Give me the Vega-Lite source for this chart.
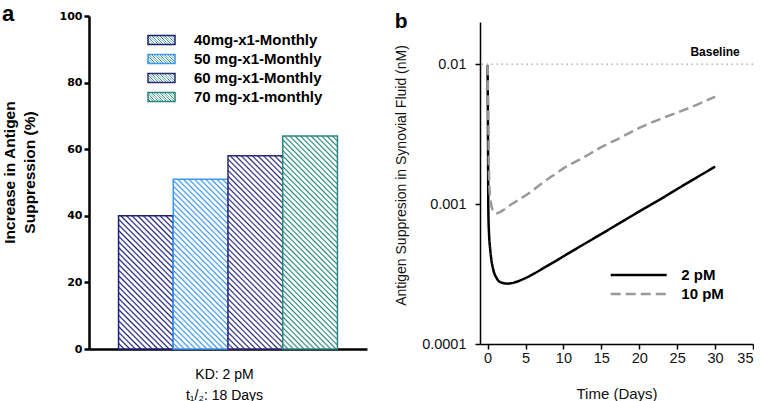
{
  "$schema": "https://vega.github.io/schema/vega-lite/v6.json",
  "padding": {"left": 2, "top": 3, "right": 0, "bottom": 0},
  "config": {
    "font": "Liberation Sans",
    "view": {"stroke": null},
    "axis": {"labelOverlap": false},
    "axisX": {"labelFontSize": 14.5, "labelColor": "#111", "labelPadding": 2, "labelOverlap": false, "tickSize": 5, "tickWidth": 1.5, "tickColor": "#000", "domainColor": "#000", "domainWidth": 1.5, "grid": false},
    "title": {"font": "Liberation Sans", "fontSize": 22, "fontWeight": "bold", "anchor": "start", "frame": "bounds", "color": "#000"}
  },
  "spacing": 27,
  "resolve": {"scale": {"stroke": "independent", "strokeDash": "independent"}, "legend": {"stroke": "independent", "strokeDash": "independent"}},
  "hconcat": [
    {
      "width": 278,
      "height": 333,
      "title": {"text": "a", "offset": -16},
      "data": {"values": [
        {"dose": "40mg-x1-Monthly", "value": 40},
        {"dose": "50 mg-x1-Monthly", "value": 51},
        {"dose": "60 mg-x1-Monthly", "value": 58},
        {"dose": "70 mg-x1-monthly", "value": 64}
      ]},
      "mark": {"type": "bar", "strokeWidth": 1.5},
      "encoding": {
        "x": {"field": "dose", "type": "nominal", "sort": null,
          "scale": {"paddingInner": 0, "paddingOuter": 0.54},
          "axis": {"title": ["KD: 2 pM", "t₁/₂: 18 Days"], "labels": false, "ticks": false, "domainColor": "#000", "domainWidth": 2.5,
            "titleFontWeight": "normal", "titleFontSize": 14, "titleColor": "#000", "titlePadding": 18, "titleLineHeight": 21, "titleX": 135}},
        "y": {"field": "value", "type": "quantitative",
          "scale": {"domain": [0, 100], "nice": false},
          "axis": {"values": [0, 20, 40, 60, 80, 100], "title": ["Increase in Antigen", "Suppression (%)"], "grid": false,
            "domainColor": "#000", "domainWidth": 2.5, "tickColor": "#000", "tickWidth": 2.5, "tickSize": 5,
            "labelFont": "DejaVu Sans", "labelFontWeight": "bold", "labelFontSize": 11, "labelColor": "#000", "labelPadding": 2,
            "titleFontSize": 15.5, "titleFontWeight": "bold", "titleColor": "#000", "titleLineHeight": 20, "titlePadding": 22, "titleY": 156}},
        "stroke": {"field": "dose", "type": "nominal", "sort": null,
          "scale": {"range": ["#1c1f78", "#3a97f5", "#2c2a78", "#27877e"]},
          "legend": {"title": null, "orient": "none", "legendX": 62.5, "legendY": 14, "padding": 0,
            "symbolType": "M-1.5,-0.5H1.5V0.5H-1.5Z", "symbolSize": 324, "symbolStrokeWidth": 1.5,
            "labelFontSize": 15, "labelFontWeight": "bold", "labelColor": "#000", "labelOffset": 22.5, "rowPadding": 1,
            "encode": {"symbols": {"update": {"fill": [
              {"test": "datum.value === '40mg-x1-Monthly'", "value": {"gradient": "linear", "x1": 0, "y1": 1, "x2": 1.2, "y2": 0.6, "stops": [
                {"offset": 0, "color": "#1c1f78"}, {"offset": 0.048, "color": "#fff"}, {"offset": 0.112, "color": "#fff"},
                {"offset": 0.16, "color": "#1c1f78"}, {"offset": 0.208, "color": "#fff"}, {"offset": 0.272, "color": "#fff"},
                {"offset": 0.32, "color": "#1c1f78"}, {"offset": 0.368, "color": "#fff"}, {"offset": 0.432, "color": "#fff"},
                {"offset": 0.48, "color": "#1c1f78"}, {"offset": 0.528, "color": "#fff"}, {"offset": 0.592, "color": "#fff"},
                {"offset": 0.64, "color": "#1c1f78"}, {"offset": 0.688, "color": "#fff"}, {"offset": 0.752, "color": "#fff"},
                {"offset": 0.8, "color": "#1c1f78"}, {"offset": 0.848, "color": "#fff"}, {"offset": 0.912, "color": "#fff"},
                {"offset": 0.96, "color": "#1c1f78"}, {"offset": 1, "color": "#fff"}]}},
              {"test": "datum.value === '50 mg-x1-Monthly'", "value": {"gradient": "linear", "x1": 0, "y1": 1, "x2": 1.2, "y2": 0.6, "stops": [
                {"offset": 0, "color": "#3a97f5"}, {"offset": 0.048, "color": "#fff"}, {"offset": 0.112, "color": "#fff"},
                {"offset": 0.16, "color": "#3a97f5"}, {"offset": 0.208, "color": "#fff"}, {"offset": 0.272, "color": "#fff"},
                {"offset": 0.32, "color": "#3a97f5"}, {"offset": 0.368, "color": "#fff"}, {"offset": 0.432, "color": "#fff"},
                {"offset": 0.48, "color": "#3a97f5"}, {"offset": 0.528, "color": "#fff"}, {"offset": 0.592, "color": "#fff"},
                {"offset": 0.64, "color": "#3a97f5"}, {"offset": 0.688, "color": "#fff"}, {"offset": 0.752, "color": "#fff"},
                {"offset": 0.8, "color": "#3a97f5"}, {"offset": 0.848, "color": "#fff"}, {"offset": 0.912, "color": "#fff"},
                {"offset": 0.96, "color": "#3a97f5"}, {"offset": 1, "color": "#fff"}]}},
              {"test": "datum.value === '60 mg-x1-Monthly'", "value": {"gradient": "linear", "x1": 0, "y1": 1, "x2": 1.2, "y2": 0.6, "stops": [
                {"offset": 0, "color": "#2c2a78"}, {"offset": 0.048, "color": "#fff"}, {"offset": 0.112, "color": "#fff"},
                {"offset": 0.16, "color": "#2c2a78"}, {"offset": 0.208, "color": "#fff"}, {"offset": 0.272, "color": "#fff"},
                {"offset": 0.32, "color": "#2c2a78"}, {"offset": 0.368, "color": "#fff"}, {"offset": 0.432, "color": "#fff"},
                {"offset": 0.48, "color": "#2c2a78"}, {"offset": 0.528, "color": "#fff"}, {"offset": 0.592, "color": "#fff"},
                {"offset": 0.64, "color": "#2c2a78"}, {"offset": 0.688, "color": "#fff"}, {"offset": 0.752, "color": "#fff"},
                {"offset": 0.8, "color": "#2c2a78"}, {"offset": 0.848, "color": "#fff"}, {"offset": 0.912, "color": "#fff"},
                {"offset": 0.96, "color": "#2c2a78"}, {"offset": 1, "color": "#fff"}]}},
              {"value": {"gradient": "linear", "x1": 0, "y1": 1, "x2": 1.2, "y2": 0.6, "stops": [
                {"offset": 0, "color": "#27877e"}, {"offset": 0.048, "color": "#fff"}, {"offset": 0.112, "color": "#fff"},
                {"offset": 0.16, "color": "#27877e"}, {"offset": 0.208, "color": "#fff"}, {"offset": 0.272, "color": "#fff"},
                {"offset": 0.32, "color": "#27877e"}, {"offset": 0.368, "color": "#fff"}, {"offset": 0.432, "color": "#fff"},
                {"offset": 0.48, "color": "#27877e"}, {"offset": 0.528, "color": "#fff"}, {"offset": 0.592, "color": "#fff"},
                {"offset": 0.64, "color": "#27877e"}, {"offset": 0.688, "color": "#fff"}, {"offset": 0.752, "color": "#fff"},
                {"offset": 0.8, "color": "#27877e"}, {"offset": 0.848, "color": "#fff"}, {"offset": 0.912, "color": "#fff"},
                {"offset": 0.96, "color": "#27877e"}, {"offset": 1, "color": "#fff"}]}}]}}}}},
        "fill": {"condition": [
          {"test": "datum.dose === '40mg-x1-Monthly'", "value": {"gradient": "linear", "x1": 0, "y1": 1, "x2": 0.498, "y2": -0.207, "stops": [
            {"offset": 0, "color": "#1c1f78"}, {"offset": 0.009, "color": "#fff"}, {"offset": 0.021, "color": "#fff"},
            {"offset": 0.03, "color": "#1c1f78"}, {"offset": 0.039, "color": "#fff"}, {"offset": 0.051, "color": "#fff"},
            {"offset": 0.06, "color": "#1c1f78"}, {"offset": 0.069, "color": "#fff"}, {"offset": 0.081, "color": "#fff"},
            {"offset": 0.09, "color": "#1c1f78"}, {"offset": 0.099, "color": "#fff"}, {"offset": 0.111, "color": "#fff"},
            {"offset": 0.12, "color": "#1c1f78"}, {"offset": 0.129, "color": "#fff"}, {"offset": 0.141, "color": "#fff"},
            {"offset": 0.15, "color": "#1c1f78"}, {"offset": 0.159, "color": "#fff"}, {"offset": 0.171, "color": "#fff"},
            {"offset": 0.18, "color": "#1c1f78"}, {"offset": 0.189, "color": "#fff"}, {"offset": 0.201, "color": "#fff"},
            {"offset": 0.21, "color": "#1c1f78"}, {"offset": 0.219, "color": "#fff"}, {"offset": 0.231, "color": "#fff"},
            {"offset": 0.24, "color": "#1c1f78"}, {"offset": 0.249, "color": "#fff"}, {"offset": 0.261, "color": "#fff"},
            {"offset": 0.27, "color": "#1c1f78"}, {"offset": 0.279, "color": "#fff"}, {"offset": 0.291, "color": "#fff"},
            {"offset": 0.3, "color": "#1c1f78"}, {"offset": 0.309, "color": "#fff"}, {"offset": 0.321, "color": "#fff"},
            {"offset": 0.33, "color": "#1c1f78"}, {"offset": 0.339, "color": "#fff"}, {"offset": 0.351, "color": "#fff"},
            {"offset": 0.36, "color": "#1c1f78"}, {"offset": 0.369, "color": "#fff"}, {"offset": 0.381, "color": "#fff"},
            {"offset": 0.39, "color": "#1c1f78"}, {"offset": 0.399, "color": "#fff"}, {"offset": 0.411, "color": "#fff"},
            {"offset": 0.42, "color": "#1c1f78"}, {"offset": 0.429, "color": "#fff"}, {"offset": 0.441, "color": "#fff"},
            {"offset": 0.45, "color": "#1c1f78"}, {"offset": 0.459, "color": "#fff"}, {"offset": 0.471, "color": "#fff"},
            {"offset": 0.48, "color": "#1c1f78"}, {"offset": 0.489, "color": "#fff"}, {"offset": 0.501, "color": "#fff"},
            {"offset": 0.51, "color": "#1c1f78"}, {"offset": 0.519, "color": "#fff"}, {"offset": 0.531, "color": "#fff"},
            {"offset": 0.54, "color": "#1c1f78"}, {"offset": 0.549, "color": "#fff"}, {"offset": 0.561, "color": "#fff"},
            {"offset": 0.57, "color": "#1c1f78"}, {"offset": 0.579, "color": "#fff"}, {"offset": 0.591, "color": "#fff"},
            {"offset": 0.6, "color": "#1c1f78"}, {"offset": 0.609, "color": "#fff"}, {"offset": 0.621, "color": "#fff"},
            {"offset": 0.63, "color": "#1c1f78"}, {"offset": 0.639, "color": "#fff"}, {"offset": 0.651, "color": "#fff"},
            {"offset": 0.66, "color": "#1c1f78"}, {"offset": 0.669, "color": "#fff"}, {"offset": 0.681, "color": "#fff"},
            {"offset": 0.69, "color": "#1c1f78"}, {"offset": 0.699, "color": "#fff"}, {"offset": 0.711, "color": "#fff"},
            {"offset": 0.72, "color": "#1c1f78"}, {"offset": 0.729, "color": "#fff"}, {"offset": 0.741, "color": "#fff"},
            {"offset": 0.75, "color": "#1c1f78"}, {"offset": 0.759, "color": "#fff"}, {"offset": 0.771, "color": "#fff"},
            {"offset": 0.78, "color": "#1c1f78"}, {"offset": 0.789, "color": "#fff"}, {"offset": 0.801, "color": "#fff"},
            {"offset": 0.81, "color": "#1c1f78"}, {"offset": 0.819, "color": "#fff"}, {"offset": 0.831, "color": "#fff"},
            {"offset": 0.84, "color": "#1c1f78"}, {"offset": 0.849, "color": "#fff"}, {"offset": 0.861, "color": "#fff"},
            {"offset": 0.87, "color": "#1c1f78"}, {"offset": 0.879, "color": "#fff"}, {"offset": 0.891, "color": "#fff"},
            {"offset": 0.9, "color": "#1c1f78"}, {"offset": 0.909, "color": "#fff"}, {"offset": 0.921, "color": "#fff"},
            {"offset": 0.93, "color": "#1c1f78"}, {"offset": 0.939, "color": "#fff"}, {"offset": 0.951, "color": "#fff"},
            {"offset": 0.96, "color": "#1c1f78"}, {"offset": 0.969, "color": "#fff"}, {"offset": 0.981, "color": "#fff"},
            {"offset": 0.99, "color": "#1c1f78"}, {"offset": 0.999, "color": "#fff"}]}},
          {"test": "datum.dose === '50 mg-x1-Monthly'", "value": {"gradient": "linear", "x1": 0, "y1": 1, "x2": 0.388, "y2": -0.198, "stops": [
            {"offset": 0, "color": "#3a97f5"}, {"offset": 0.0075, "color": "#fff"}, {"offset": 0.0175, "color": "#fff"},
            {"offset": 0.025, "color": "#3a97f5"}, {"offset": 0.0325, "color": "#fff"}, {"offset": 0.0425, "color": "#fff"},
            {"offset": 0.05, "color": "#3a97f5"}, {"offset": 0.0575, "color": "#fff"}, {"offset": 0.0675, "color": "#fff"},
            {"offset": 0.075, "color": "#3a97f5"}, {"offset": 0.0825, "color": "#fff"}, {"offset": 0.0925, "color": "#fff"},
            {"offset": 0.1, "color": "#3a97f5"}, {"offset": 0.1075, "color": "#fff"}, {"offset": 0.1175, "color": "#fff"},
            {"offset": 0.125, "color": "#3a97f5"}, {"offset": 0.1325, "color": "#fff"}, {"offset": 0.1425, "color": "#fff"},
            {"offset": 0.15, "color": "#3a97f5"}, {"offset": 0.1575, "color": "#fff"}, {"offset": 0.1675, "color": "#fff"},
            {"offset": 0.175, "color": "#3a97f5"}, {"offset": 0.1825, "color": "#fff"}, {"offset": 0.1925, "color": "#fff"},
            {"offset": 0.2, "color": "#3a97f5"}, {"offset": 0.2075, "color": "#fff"}, {"offset": 0.2175, "color": "#fff"},
            {"offset": 0.225, "color": "#3a97f5"}, {"offset": 0.2325, "color": "#fff"}, {"offset": 0.2425, "color": "#fff"},
            {"offset": 0.25, "color": "#3a97f5"}, {"offset": 0.2575, "color": "#fff"}, {"offset": 0.2675, "color": "#fff"},
            {"offset": 0.275, "color": "#3a97f5"}, {"offset": 0.2825, "color": "#fff"}, {"offset": 0.2925, "color": "#fff"},
            {"offset": 0.3, "color": "#3a97f5"}, {"offset": 0.3075, "color": "#fff"}, {"offset": 0.3175, "color": "#fff"},
            {"offset": 0.325, "color": "#3a97f5"}, {"offset": 0.3325, "color": "#fff"}, {"offset": 0.3425, "color": "#fff"},
            {"offset": 0.35, "color": "#3a97f5"}, {"offset": 0.3575, "color": "#fff"}, {"offset": 0.3675, "color": "#fff"},
            {"offset": 0.375, "color": "#3a97f5"}, {"offset": 0.3825, "color": "#fff"}, {"offset": 0.3925, "color": "#fff"},
            {"offset": 0.4, "color": "#3a97f5"}, {"offset": 0.4075, "color": "#fff"}, {"offset": 0.4175, "color": "#fff"},
            {"offset": 0.425, "color": "#3a97f5"}, {"offset": 0.4325, "color": "#fff"}, {"offset": 0.4425, "color": "#fff"},
            {"offset": 0.45, "color": "#3a97f5"}, {"offset": 0.4575, "color": "#fff"}, {"offset": 0.4675, "color": "#fff"},
            {"offset": 0.475, "color": "#3a97f5"}, {"offset": 0.4825, "color": "#fff"}, {"offset": 0.4925, "color": "#fff"},
            {"offset": 0.5, "color": "#3a97f5"}, {"offset": 0.5075, "color": "#fff"}, {"offset": 0.5175, "color": "#fff"},
            {"offset": 0.525, "color": "#3a97f5"}, {"offset": 0.5325, "color": "#fff"}, {"offset": 0.5425, "color": "#fff"},
            {"offset": 0.55, "color": "#3a97f5"}, {"offset": 0.5575, "color": "#fff"}, {"offset": 0.5675, "color": "#fff"},
            {"offset": 0.575, "color": "#3a97f5"}, {"offset": 0.5825, "color": "#fff"}, {"offset": 0.5925, "color": "#fff"},
            {"offset": 0.6, "color": "#3a97f5"}, {"offset": 0.6075, "color": "#fff"}, {"offset": 0.6175, "color": "#fff"},
            {"offset": 0.625, "color": "#3a97f5"}, {"offset": 0.6325, "color": "#fff"}, {"offset": 0.6425, "color": "#fff"},
            {"offset": 0.65, "color": "#3a97f5"}, {"offset": 0.6575, "color": "#fff"}, {"offset": 0.6675, "color": "#fff"},
            {"offset": 0.675, "color": "#3a97f5"}, {"offset": 0.6825, "color": "#fff"}, {"offset": 0.6925, "color": "#fff"},
            {"offset": 0.7, "color": "#3a97f5"}, {"offset": 0.7075, "color": "#fff"}, {"offset": 0.7175, "color": "#fff"},
            {"offset": 0.725, "color": "#3a97f5"}, {"offset": 0.7325, "color": "#fff"}, {"offset": 0.7425, "color": "#fff"},
            {"offset": 0.75, "color": "#3a97f5"}, {"offset": 0.7575, "color": "#fff"}, {"offset": 0.7675, "color": "#fff"},
            {"offset": 0.775, "color": "#3a97f5"}, {"offset": 0.7825, "color": "#fff"}, {"offset": 0.7925, "color": "#fff"},
            {"offset": 0.8, "color": "#3a97f5"}, {"offset": 0.8075, "color": "#fff"}, {"offset": 0.8175, "color": "#fff"},
            {"offset": 0.825, "color": "#3a97f5"}, {"offset": 0.8325, "color": "#fff"}, {"offset": 0.8425, "color": "#fff"},
            {"offset": 0.85, "color": "#3a97f5"}, {"offset": 0.8575, "color": "#fff"}, {"offset": 0.8675, "color": "#fff"},
            {"offset": 0.875, "color": "#3a97f5"}, {"offset": 0.8825, "color": "#fff"}, {"offset": 0.8925, "color": "#fff"},
            {"offset": 0.9, "color": "#3a97f5"}, {"offset": 0.9075, "color": "#fff"}, {"offset": 0.9175, "color": "#fff"},
            {"offset": 0.925, "color": "#3a97f5"}, {"offset": 0.9325, "color": "#fff"}, {"offset": 0.9425, "color": "#fff"},
            {"offset": 0.95, "color": "#3a97f5"}, {"offset": 0.9575, "color": "#fff"}, {"offset": 0.9675, "color": "#fff"},
            {"offset": 0.975, "color": "#3a97f5"}, {"offset": 0.9825, "color": "#fff"}, {"offset": 0.9925, "color": "#fff"},
            {"offset": 1, "color": "#3a97f5"}]}},
          {"test": "datum.dose === '60 mg-x1-Monthly'", "value": {"gradient": "linear", "x1": 0, "y1": 1, "x2": 0.338, "y2": -0.188, "stops": [
            {"offset": 0, "color": "#2c2a78"}, {"offset": 0.00675, "color": "#fff"}, {"offset": 0.01575, "color": "#fff"},
            {"offset": 0.0225, "color": "#2c2a78"}, {"offset": 0.02925, "color": "#fff"}, {"offset": 0.03825, "color": "#fff"},
            {"offset": 0.045, "color": "#2c2a78"}, {"offset": 0.05175, "color": "#fff"}, {"offset": 0.06075, "color": "#fff"},
            {"offset": 0.0675, "color": "#2c2a78"}, {"offset": 0.07425, "color": "#fff"}, {"offset": 0.08325, "color": "#fff"},
            {"offset": 0.09, "color": "#2c2a78"}, {"offset": 0.09675, "color": "#fff"}, {"offset": 0.10575, "color": "#fff"},
            {"offset": 0.1125, "color": "#2c2a78"}, {"offset": 0.11925, "color": "#fff"}, {"offset": 0.12825, "color": "#fff"},
            {"offset": 0.135, "color": "#2c2a78"}, {"offset": 0.14175, "color": "#fff"}, {"offset": 0.15075, "color": "#fff"},
            {"offset": 0.1575, "color": "#2c2a78"}, {"offset": 0.16425, "color": "#fff"}, {"offset": 0.17325, "color": "#fff"},
            {"offset": 0.18, "color": "#2c2a78"}, {"offset": 0.18675, "color": "#fff"}, {"offset": 0.19575, "color": "#fff"},
            {"offset": 0.2025, "color": "#2c2a78"}, {"offset": 0.20925, "color": "#fff"}, {"offset": 0.21825, "color": "#fff"},
            {"offset": 0.225, "color": "#2c2a78"}, {"offset": 0.23175, "color": "#fff"}, {"offset": 0.24075, "color": "#fff"},
            {"offset": 0.2475, "color": "#2c2a78"}, {"offset": 0.25425, "color": "#fff"}, {"offset": 0.26325, "color": "#fff"},
            {"offset": 0.27, "color": "#2c2a78"}, {"offset": 0.27675, "color": "#fff"}, {"offset": 0.28575, "color": "#fff"},
            {"offset": 0.2925, "color": "#2c2a78"}, {"offset": 0.29925, "color": "#fff"}, {"offset": 0.30825, "color": "#fff"},
            {"offset": 0.315, "color": "#2c2a78"}, {"offset": 0.32175, "color": "#fff"}, {"offset": 0.33075, "color": "#fff"},
            {"offset": 0.3375, "color": "#2c2a78"}, {"offset": 0.34425, "color": "#fff"}, {"offset": 0.35325, "color": "#fff"},
            {"offset": 0.36, "color": "#2c2a78"}, {"offset": 0.36675, "color": "#fff"}, {"offset": 0.37575, "color": "#fff"},
            {"offset": 0.3825, "color": "#2c2a78"}, {"offset": 0.38925, "color": "#fff"}, {"offset": 0.39825, "color": "#fff"},
            {"offset": 0.405, "color": "#2c2a78"}, {"offset": 0.41175, "color": "#fff"}, {"offset": 0.42075, "color": "#fff"},
            {"offset": 0.4275, "color": "#2c2a78"}, {"offset": 0.43425, "color": "#fff"}, {"offset": 0.44325, "color": "#fff"},
            {"offset": 0.45, "color": "#2c2a78"}, {"offset": 0.45675, "color": "#fff"}, {"offset": 0.46575, "color": "#fff"},
            {"offset": 0.4725, "color": "#2c2a78"}, {"offset": 0.47925, "color": "#fff"}, {"offset": 0.48825, "color": "#fff"},
            {"offset": 0.495, "color": "#2c2a78"}, {"offset": 0.50175, "color": "#fff"}, {"offset": 0.51075, "color": "#fff"},
            {"offset": 0.5175, "color": "#2c2a78"}, {"offset": 0.52425, "color": "#fff"}, {"offset": 0.53325, "color": "#fff"},
            {"offset": 0.54, "color": "#2c2a78"}, {"offset": 0.54675, "color": "#fff"}, {"offset": 0.55575, "color": "#fff"},
            {"offset": 0.5625, "color": "#2c2a78"}, {"offset": 0.56925, "color": "#fff"}, {"offset": 0.57825, "color": "#fff"},
            {"offset": 0.585, "color": "#2c2a78"}, {"offset": 0.59175, "color": "#fff"}, {"offset": 0.60075, "color": "#fff"},
            {"offset": 0.6075, "color": "#2c2a78"}, {"offset": 0.61425, "color": "#fff"}, {"offset": 0.62325, "color": "#fff"},
            {"offset": 0.63, "color": "#2c2a78"}, {"offset": 0.63675, "color": "#fff"}, {"offset": 0.64575, "color": "#fff"},
            {"offset": 0.6525, "color": "#2c2a78"}, {"offset": 0.65925, "color": "#fff"}, {"offset": 0.66825, "color": "#fff"},
            {"offset": 0.675, "color": "#2c2a78"}, {"offset": 0.68175, "color": "#fff"}, {"offset": 0.69075, "color": "#fff"},
            {"offset": 0.6975, "color": "#2c2a78"}, {"offset": 0.70425, "color": "#fff"}, {"offset": 0.71325, "color": "#fff"},
            {"offset": 0.72, "color": "#2c2a78"}, {"offset": 0.72675, "color": "#fff"}, {"offset": 0.73575, "color": "#fff"},
            {"offset": 0.7425, "color": "#2c2a78"}, {"offset": 0.74925, "color": "#fff"}, {"offset": 0.75825, "color": "#fff"},
            {"offset": 0.765, "color": "#2c2a78"}, {"offset": 0.77175, "color": "#fff"}, {"offset": 0.78075, "color": "#fff"},
            {"offset": 0.7875, "color": "#2c2a78"}, {"offset": 0.79425, "color": "#fff"}, {"offset": 0.80325, "color": "#fff"},
            {"offset": 0.81, "color": "#2c2a78"}, {"offset": 0.81675, "color": "#fff"}, {"offset": 0.82575, "color": "#fff"},
            {"offset": 0.8325, "color": "#2c2a78"}, {"offset": 0.83925, "color": "#fff"}, {"offset": 0.84825, "color": "#fff"},
            {"offset": 0.855, "color": "#2c2a78"}, {"offset": 0.86175, "color": "#fff"}, {"offset": 0.87075, "color": "#fff"},
            {"offset": 0.8775, "color": "#2c2a78"}, {"offset": 0.88425, "color": "#fff"}, {"offset": 0.89325, "color": "#fff"},
            {"offset": 0.9, "color": "#2c2a78"}, {"offset": 0.90675, "color": "#fff"}, {"offset": 0.91575, "color": "#fff"},
            {"offset": 0.9225, "color": "#2c2a78"}, {"offset": 0.92925, "color": "#fff"}, {"offset": 0.93825, "color": "#fff"},
            {"offset": 0.945, "color": "#2c2a78"}, {"offset": 0.95175, "color": "#fff"}, {"offset": 0.96075, "color": "#fff"},
            {"offset": 0.9675, "color": "#2c2a78"}, {"offset": 0.97425, "color": "#fff"}, {"offset": 0.98325, "color": "#fff"},
            {"offset": 0.99, "color": "#2c2a78"}, {"offset": 0.99675, "color": "#fff"}]}}
        ], "value": {"gradient": "linear", "x1": 0, "y1": 1, "x2": 0.305, "y2": -0.18, "stops": [
            {"offset": 0, "color": "#27877e"}, {"offset": 0.006, "color": "#fff"}, {"offset": 0.014, "color": "#fff"},
            {"offset": 0.02, "color": "#27877e"}, {"offset": 0.026, "color": "#fff"}, {"offset": 0.034, "color": "#fff"},
            {"offset": 0.04, "color": "#27877e"}, {"offset": 0.046, "color": "#fff"}, {"offset": 0.054, "color": "#fff"},
            {"offset": 0.06, "color": "#27877e"}, {"offset": 0.066, "color": "#fff"}, {"offset": 0.074, "color": "#fff"},
            {"offset": 0.08, "color": "#27877e"}, {"offset": 0.086, "color": "#fff"}, {"offset": 0.094, "color": "#fff"},
            {"offset": 0.1, "color": "#27877e"}, {"offset": 0.106, "color": "#fff"}, {"offset": 0.114, "color": "#fff"},
            {"offset": 0.12, "color": "#27877e"}, {"offset": 0.126, "color": "#fff"}, {"offset": 0.134, "color": "#fff"},
            {"offset": 0.14, "color": "#27877e"}, {"offset": 0.146, "color": "#fff"}, {"offset": 0.154, "color": "#fff"},
            {"offset": 0.16, "color": "#27877e"}, {"offset": 0.166, "color": "#fff"}, {"offset": 0.174, "color": "#fff"},
            {"offset": 0.18, "color": "#27877e"}, {"offset": 0.186, "color": "#fff"}, {"offset": 0.194, "color": "#fff"},
            {"offset": 0.2, "color": "#27877e"}, {"offset": 0.206, "color": "#fff"}, {"offset": 0.214, "color": "#fff"},
            {"offset": 0.22, "color": "#27877e"}, {"offset": 0.226, "color": "#fff"}, {"offset": 0.234, "color": "#fff"},
            {"offset": 0.24, "color": "#27877e"}, {"offset": 0.246, "color": "#fff"}, {"offset": 0.254, "color": "#fff"},
            {"offset": 0.26, "color": "#27877e"}, {"offset": 0.266, "color": "#fff"}, {"offset": 0.274, "color": "#fff"},
            {"offset": 0.28, "color": "#27877e"}, {"offset": 0.286, "color": "#fff"}, {"offset": 0.294, "color": "#fff"},
            {"offset": 0.3, "color": "#27877e"}, {"offset": 0.306, "color": "#fff"}, {"offset": 0.314, "color": "#fff"},
            {"offset": 0.32, "color": "#27877e"}, {"offset": 0.326, "color": "#fff"}, {"offset": 0.334, "color": "#fff"},
            {"offset": 0.34, "color": "#27877e"}, {"offset": 0.346, "color": "#fff"}, {"offset": 0.354, "color": "#fff"},
            {"offset": 0.36, "color": "#27877e"}, {"offset": 0.366, "color": "#fff"}, {"offset": 0.374, "color": "#fff"},
            {"offset": 0.38, "color": "#27877e"}, {"offset": 0.386, "color": "#fff"}, {"offset": 0.394, "color": "#fff"},
            {"offset": 0.4, "color": "#27877e"}, {"offset": 0.406, "color": "#fff"}, {"offset": 0.414, "color": "#fff"},
            {"offset": 0.42, "color": "#27877e"}, {"offset": 0.426, "color": "#fff"}, {"offset": 0.434, "color": "#fff"},
            {"offset": 0.44, "color": "#27877e"}, {"offset": 0.446, "color": "#fff"}, {"offset": 0.454, "color": "#fff"},
            {"offset": 0.46, "color": "#27877e"}, {"offset": 0.466, "color": "#fff"}, {"offset": 0.474, "color": "#fff"},
            {"offset": 0.48, "color": "#27877e"}, {"offset": 0.486, "color": "#fff"}, {"offset": 0.494, "color": "#fff"},
            {"offset": 0.5, "color": "#27877e"}, {"offset": 0.506, "color": "#fff"}, {"offset": 0.514, "color": "#fff"},
            {"offset": 0.52, "color": "#27877e"}, {"offset": 0.526, "color": "#fff"}, {"offset": 0.534, "color": "#fff"},
            {"offset": 0.54, "color": "#27877e"}, {"offset": 0.546, "color": "#fff"}, {"offset": 0.554, "color": "#fff"},
            {"offset": 0.56, "color": "#27877e"}, {"offset": 0.566, "color": "#fff"}, {"offset": 0.574, "color": "#fff"},
            {"offset": 0.58, "color": "#27877e"}, {"offset": 0.586, "color": "#fff"}, {"offset": 0.594, "color": "#fff"},
            {"offset": 0.6, "color": "#27877e"}, {"offset": 0.606, "color": "#fff"}, {"offset": 0.614, "color": "#fff"},
            {"offset": 0.62, "color": "#27877e"}, {"offset": 0.626, "color": "#fff"}, {"offset": 0.634, "color": "#fff"},
            {"offset": 0.64, "color": "#27877e"}, {"offset": 0.646, "color": "#fff"}, {"offset": 0.654, "color": "#fff"},
            {"offset": 0.66, "color": "#27877e"}, {"offset": 0.666, "color": "#fff"}, {"offset": 0.674, "color": "#fff"},
            {"offset": 0.68, "color": "#27877e"}, {"offset": 0.686, "color": "#fff"}, {"offset": 0.694, "color": "#fff"},
            {"offset": 0.7, "color": "#27877e"}, {"offset": 0.706, "color": "#fff"}, {"offset": 0.714, "color": "#fff"},
            {"offset": 0.72, "color": "#27877e"}, {"offset": 0.726, "color": "#fff"}, {"offset": 0.734, "color": "#fff"},
            {"offset": 0.74, "color": "#27877e"}, {"offset": 0.746, "color": "#fff"}, {"offset": 0.754, "color": "#fff"},
            {"offset": 0.76, "color": "#27877e"}, {"offset": 0.766, "color": "#fff"}, {"offset": 0.774, "color": "#fff"},
            {"offset": 0.78, "color": "#27877e"}, {"offset": 0.786, "color": "#fff"}, {"offset": 0.794, "color": "#fff"},
            {"offset": 0.8, "color": "#27877e"}, {"offset": 0.806, "color": "#fff"}, {"offset": 0.814, "color": "#fff"},
            {"offset": 0.82, "color": "#27877e"}, {"offset": 0.826, "color": "#fff"}, {"offset": 0.834, "color": "#fff"},
            {"offset": 0.84, "color": "#27877e"}, {"offset": 0.846, "color": "#fff"}, {"offset": 0.854, "color": "#fff"},
            {"offset": 0.86, "color": "#27877e"}, {"offset": 0.866, "color": "#fff"}, {"offset": 0.874, "color": "#fff"},
            {"offset": 0.88, "color": "#27877e"}, {"offset": 0.886, "color": "#fff"}, {"offset": 0.894, "color": "#fff"},
            {"offset": 0.9, "color": "#27877e"}, {"offset": 0.906, "color": "#fff"}, {"offset": 0.914, "color": "#fff"},
            {"offset": 0.92, "color": "#27877e"}, {"offset": 0.926, "color": "#fff"}, {"offset": 0.934, "color": "#fff"},
            {"offset": 0.94, "color": "#27877e"}, {"offset": 0.946, "color": "#fff"}, {"offset": 0.954, "color": "#fff"},
            {"offset": 0.96, "color": "#27877e"}, {"offset": 0.966, "color": "#fff"}, {"offset": 0.974, "color": "#fff"},
            {"offset": 0.98, "color": "#27877e"}, {"offset": 0.986, "color": "#fff"}, {"offset": 0.994, "color": "#fff"},
            {"offset": 1, "color": "#27877e"}]}}
      }
    },
    {
      "width": 273,
      "height": 328,
      "title": {"text": "b", "offset": -16, "fontSize": 21},
      "layer": [
        {
          "data": {"values": [{}]},
          "mark": {"type": "rule", "strokeDash": [1.5, 3.5], "color": "#888", "strokeWidth": 1},
          "encoding": {"y": {"datum": 0.01, "type": "quantitative"}}
        },
        {
          "data": {"values": [{}]},
          "mark": {"type": "text", "text": "Baseline", "fontWeight": "bold", "fontSize": 12, "color": "#000", "baseline": "middle", "align": "center"},
          "encoding": {
            "x": {"datum": 30, "type": "quantitative",
              "axis": {"values": [0, 5, 10, 15, 20, 25, 30, 35], "title": "Time (Days)", "grid": false, "labelOverlap": false,
                "domainColor": "#000", "domainWidth": 1.5, "tickColor": "#000", "tickWidth": 1.5, "tickSize": 5,
                "labelFontSize": 14.5, "labelColor": "#111", "labelPadding": 2,
                "titleFontSize": 15, "titleFontWeight": "normal", "titleColor": "#111", "titlePadding": 22}},
            "y": {"datum": 0.0122, "type": "quantitative"}}
        },
        {
          "data": {"values": [
            {"t": 0, "v": 0.0098, "s": "2 pM"},
            {"t": 0.05, "v": 0.0035, "s": "2 pM"},
            {"t": 0.1, "v": 0.0009, "s": "2 pM"},
            {"t": 0.2, "v": 0.0006, "s": "2 pM"},
            {"t": 0.32, "v": 0.00049, "s": "2 pM"},
            {"t": 0.5, "v": 0.0004, "s": "2 pM"},
            {"t": 0.75, "v": 0.00034, "s": "2 pM"},
            {"t": 1.2, "v": 0.000295, "s": "2 pM"},
            {"t": 1.8, "v": 0.000275, "s": "2 pM"},
            {"t": 2.7, "v": 0.00027, "s": "2 pM"},
            {"t": 3.6, "v": 0.000276, "s": "2 pM"},
            {"t": 5, "v": 0.000296, "s": "2 pM"},
            {"t": 6.2, "v": 0.00032, "s": "2 pM"},
            {"t": 7.5, "v": 0.000352, "s": "2 pM"},
            {"t": 9, "v": 0.000392, "s": "2 pM"},
            {"t": 10, "v": 0.000423, "s": "2 pM"},
            {"t": 12.5, "v": 0.000509, "s": "2 pM"},
            {"t": 15, "v": 0.000611, "s": "2 pM"},
            {"t": 17.5, "v": 0.000736, "s": "2 pM"},
            {"t": 20, "v": 0.000885, "s": "2 pM"},
            {"t": 22.5, "v": 0.00106, "s": "2 pM"},
            {"t": 25, "v": 0.00128, "s": "2 pM"},
            {"t": 27.5, "v": 0.00154, "s": "2 pM"},
            {"t": 30, "v": 0.00185, "s": "2 pM"},
            {"t": 0, "v": 0.0098, "s": "10 pM"},
            {"t": 0.1, "v": 0.004, "s": "10 pM"},
            {"t": 0.2, "v": 0.0015, "s": "10 pM"},
            {"t": 0.35, "v": 0.0011, "s": "10 pM"},
            {"t": 0.6, "v": 0.00093, "s": "10 pM"},
            {"t": 0.9, "v": 0.00087, "s": "10 pM"},
            {"t": 1.2, "v": 0.00086, "s": "10 pM"},
            {"t": 2, "v": 0.0009, "s": "10 pM"},
            {"t": 3.2, "v": 0.001, "s": "10 pM"},
            {"t": 5.4, "v": 0.00119, "s": "10 pM"},
            {"t": 7.5, "v": 0.00145, "s": "10 pM"},
            {"t": 9, "v": 0.00165, "s": "10 pM"},
            {"t": 10, "v": 0.0018, "s": "10 pM"},
            {"t": 12.5, "v": 0.00213, "s": "10 pM"},
            {"t": 15, "v": 0.00255, "s": "10 pM"},
            {"t": 17.5, "v": 0.00298, "s": "10 pM"},
            {"t": 20, "v": 0.0035, "s": "10 pM"},
            {"t": 22.5, "v": 0.004, "s": "10 pM"},
            {"t": 25, "v": 0.0045, "s": "10 pM"},
            {"t": 27.5, "v": 0.0051, "s": "10 pM"},
            {"t": 30, "v": 0.00585, "s": "10 pM"}
          ]},
          "mark": {"type": "line", "interpolate": "monotone"},
          "encoding": {
            "x": {"field": "t", "type": "quantitative", "scale": {"domain": [-1, 35], "nice": false, "zero": false},
              "axis": {"values": [0, 5, 10, 15, 20, 25, 30, 35], "title": "Time (Days)", "grid": false, "labelOverlap": false,
                "domainColor": "#000", "domainWidth": 1.5, "tickColor": "#000", "tickWidth": 1.5, "tickSize": 5,
                "labelFontSize": 14.5, "labelColor": "#111", "labelPadding": 2,
                "titleFontSize": 15, "titleFontWeight": "normal", "titleColor": "#111", "titlePadding": 22}},
            "y": {"field": "v", "type": "quantitative", "scale": {"type": "log", "domain": [0.0001, 0.02], "nice": false, "range": [328, 6]},
              "axis": {"values": [0.0001, 0.001, 0.01], "format": "~g", "title": "Antigen Suppresion in Synovial Fluid (nM)", "grid": false,
                "domainColor": "#000", "domainWidth": 1.5, "tickColor": "#000", "tickWidth": 1.5, "tickSize": 5,
                "labelFontSize": 14.5, "labelColor": "#111", "labelPadding": 9,
                "titleFontSize": 14, "titleFontWeight": "normal", "titleColor": "#111", "titlePadding": 13, "titleY": 159}},
            "stroke": {"field": "s", "type": "nominal", "scale": {"domain": ["2 pM", "10 pM"], "range": ["#000", "#999"]},
              "legend": {"title": null, "orient": "none", "legendX": 147.7, "legendY": 248, "padding": 0,
                "symbolType": "M-3,0H3", "symbolSize": 348, "symbolStrokeWidth": 2.5,
                "labelFontSize": 15, "labelFontWeight": "bold", "labelColor": "#000", "labelOffset": 31.6, "rowPadding": -1.5}},
            "strokeDash": {"field": "s", "type": "nominal", "scale": {"domain": ["2 pM", "10 pM"], "range": [[1, 0], [10, 5]]},
              "legend": {"title": null, "orient": "none", "legendX": 147.7, "legendY": 248, "padding": 0,
                "symbolType": "M-3,0H3", "symbolSize": 348, "symbolStrokeWidth": 2.5,
                "labelFontSize": 15, "labelFontWeight": "bold", "labelColor": "#000", "labelOffset": 31.6, "rowPadding": -1.5}},
            "strokeWidth": {"value": 2.5}
          }
        }
      ]
    }
  ]
}
